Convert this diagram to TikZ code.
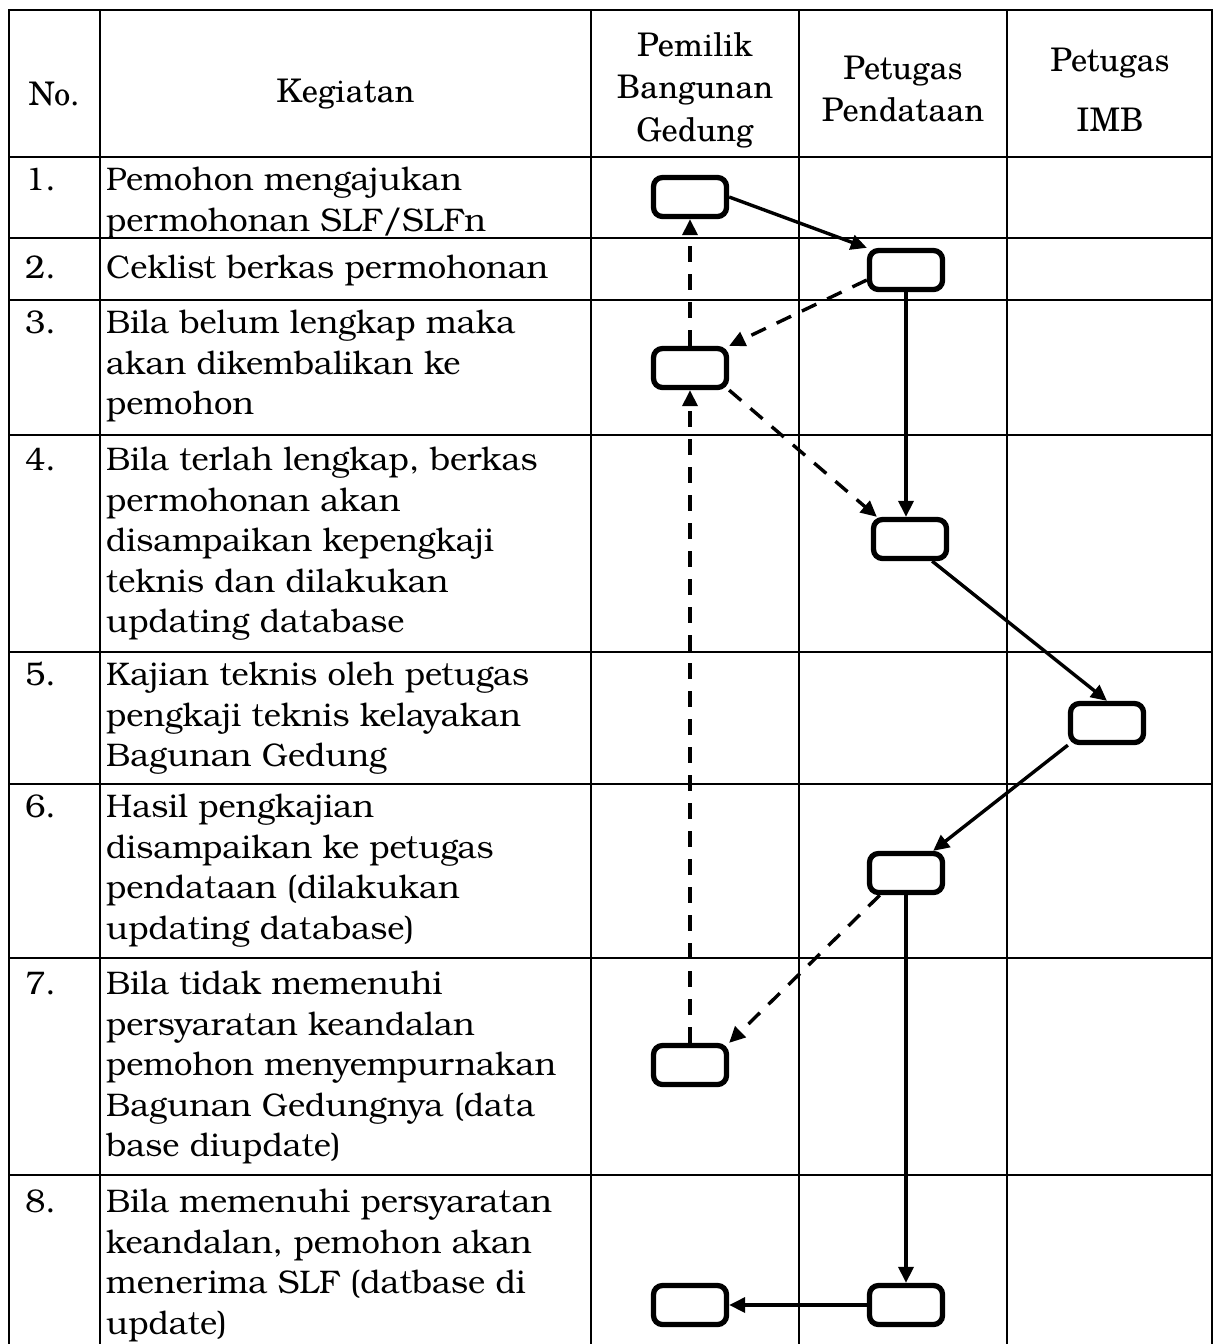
\documentclass[tikz,border=0pt]{standalone}
\usepackage{fontspec}
\setmainfont{TeX Gyre Bonum}
\newfontfamily\headfont{TeX Gyre Schola}
\usetikzlibrary{arrows.meta}

\begin{document}
\begin{tikzpicture}[x=1pt,y=-1pt,
  grid/.style={line width=2.4pt},
  stepbox/.style={draw, line width=5.3pt, rounded corners=9pt,
    minimum width=73pt, minimum height=39pt, inner sep=0pt, fill=white},
  flow/.style={line width=3.4pt, -{Triangle[length=16pt,width=15pt]}},
  back/.style={flow, dash pattern=on 16pt off 12pt},
  hd/.style={font=\headfont\fontsize{32.5pt}{42.5pt}\selectfont, align=center, inner sep=0pt},
  num/.style={anchor=north west, inner sep=0pt, font=\fontsize{32.7pt}{40.5pt}\selectfont},
  txt/.style={anchor=north west, inner sep=0pt, align=left, font=\fontsize{32.7pt}{40.5pt}\selectfont}]

\useasboundingbox (0,0) rectangle (1214,1344);

% table rules (the bottom edge runs off the page)
\draw[grid] (9,1344) -- (9,10) -- (1212,10) -- (1212,1344);
\foreach \y in {157,238,300,435,652,784,958,1175}
  \draw[grid] (9,\y) -- (1212,\y);
\foreach \x in {100,591,799,1007}
  \draw[grid] (\x,10) -- (\x,1344);

% header
\node[hd] (hno)   at (54,94)    {No.};
\node[hd] (hkeg)  at (345.5,94) {Kegiatan};
\node[hd] (hown)  at (695,90)   {Pemilik\\Bangunan\\Gedung};
\node[hd] (hdata) at (903,89)   {Petugas\\Pendataan};
\node[hd] (himb)  at (1110,90)  {Petugas\\[18pt]IMB};

% row numbers
\node[num] (n1) at (25,162)  {\strut 1.};
\node[num] (n2) at (25,250)  {\strut 2.};
\node[num] (n3) at (25,305)  {\strut 3.};
\node[num] (n4) at (25,442)  {\strut 4.};
\node[num] (n5) at (25,657)  {\strut 5.};
\node[num] (n6) at (25,789)  {\strut 6.};
\node[num] (n7) at (25,966)  {\strut 7.};
\node[num] (n8) at (25,1184) {\strut 8.};

% activities
\node[txt] (k1) at (106,162)  {\strut Pemohon mengajukan\\permohonan SLF/SLFn};
\node[txt] (k2) at (106,250)  {\strut Ceklist berkas permohonan};
\node[txt] (k3) at (106,305)  {\strut Bila belum lengkap maka\\akan dikembalikan ke\\pemohon};
\node[txt] (k4) at (106,442)  {\strut Bila terlah lengkap, berkas\\permohonan akan\\disampaikan kepengkaji\\teknis dan dilakukan\\updating database};
\node[txt] (k5) at (106,657)  {\strut Kajian teknis oleh petugas\\pengkaji teknis kelayakan\\Bagunan Gedung};
\node[txt] (k6) at (106,789)  {\strut Hasil pengkajian\\disampaikan ke petugas\\pendataan (dilakukan\\updating database)};
\node[txt] (k7) at (106,966)  {\strut Bila tidak memenuhi\\persyaratan keandalan\\pemohon menyempurnakan\\Bagunan Gedungnya (data\\base diupdate)};
\node[txt] (k8) at (106,1184) {\strut Bila memenuhi persyaratan\\keandalan, pemohon akan\\menerima SLF (datbase di\\update)};

% process boxes
\node[stepbox] (b1)  at (690,197)  {};
\node[stepbox] (b2)  at (906,270)  {};
\node[stepbox] (b3)  at (690,368)  {};
\node[stepbox] (b4)  at (910,539)  {};
\node[stepbox] (b5)  at (1107,723) {};
\node[stepbox] (b6)  at (906,873)  {};
\node[stepbox] (b7)  at (690,1065) {};
\node[stepbox] (b8p) at (906,1305) {};
\node[stepbox] (b8o) at (690,1305) {};

% flow
\draw[flow] (b1.east) -- (b2.north west);
\draw[back] ([yshift=-10pt]b2.west) -- (b3.north east);
\draw[flow] (b2.south) -- (b2.south |- b4.north);
\draw[back] (b3.south east) -- ([xshift=6pt]b4.north west);
\draw[back] (b3.north) -- (b1.south);
\draw[back] (b7.north) -- (b3.south);
\draw[flow] ([xshift=-17pt]b4.south east) -- (b5.north);
\draw[flow] (b5.south west) -- ([xshift=-12pt]b6.north east);
\draw[back] ([xshift=13pt]b6.south west) -- (b7.north east);
\draw[flow] (b6.south) -- (b6.south |- b8p.north);
\draw[flow] (b8p.west) -- (b8o.east);
\end{tikzpicture}
\end{document}
